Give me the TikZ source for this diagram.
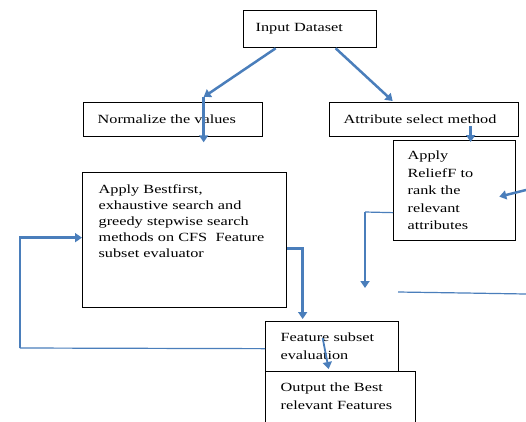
\documentclass[tikz,border=0pt]{standalone}
\usepackage{fontspec}
\setmainfont{Liberation Serif}[FakeStretch=1.3]
\usetikzlibrary{arrows.meta}
\definecolor{flowblue}{RGB}{74,126,187}
\tikzset{
  box/.style={draw, line width=1.3pt, fill=white, anchor=north west, inner xsep=14pt, inner ysep=0pt, align=left},
  flow/.style={draw=flowblue, line width=2.5pt, -{Triangle[width=9pt,length=7pt]}},
  thinflow/.style={draw=flowblue, line width=1.2pt},
}

\begin{document}
\begin{tikzpicture}[x=1pt, y=-1pt, font=\fontsize{12.5}{16}\selectfont]
            \useasboundingbox (0,0) rectangle (526,421);
            \clip (0,0) rectangle (526,421);
            \node[box, inner xsep=12pt, text width=109pt, minimum height=37pt] (input) at (243,10) {Input Dataset};
            \node[box, text width=151pt, minimum height=34pt] (normalize) at (83,102) {Normalize the values};
            \node[box, text width=161pt, minimum height=34pt] (attribute) at (329,102) {Attribute select method};
            \node[box, text width=94pt, minimum height=100pt, font=\fontsize{12.5}{17.5}\selectfont] (relieff) at (393,140) {Apply\\ReliefF to\\rank the\\relevant\\attributes};
            \node[box, inner xsep=16pt, text width=172pt, text height=21pt, text depth=114pt] (bestfirst) at (82,172) {Apply Bestfirst,\\exhaustive search and\\greedy stepwise search\\methods on CFS~ Feature\\subset evaluator};
            \node[box, inner xsep=15pt, text width=103pt, text height=20pt, text depth=34pt, font=\fontsize{12.5}{18}\selectfont] (feature) at (265,321) {Feature subset\\evaluation};
            \node[box, inner xsep=15pt, text width=120pt, text height=20pt, text depth=50pt, font=\fontsize{12.5}{18}\selectfont] (output) at (265,371) {Output the Best\\relevant Features};
            \coordinate (rightin) at (526,190);
            \coordinate (bend) at (365,212);
            \coordinate (drop) at (365,288);
            \coordinate (stub1) at (398,292);
            \coordinate (stub2) at (465,293);
            \coordinate (stub3) at (526,294);
            \coordinate (loop) at (20,348);
            % top of the flow
            \draw[flow] ([xshift=-34.5pt]input.south) to ([xshift=30.5pt,yshift=5pt]normalize.north);
            \draw[flow] ([xshift=30.5pt,yshift=5pt]normalize.north) to ([xshift=30.5pt,yshift=-5pt]normalize.south);
            \draw[flow] ([xshift=25.5pt]input.south) to ([xshift=-31.5pt,yshift=1pt]attribute.north);
            \draw[flow] ([xshift=46.5pt,yshift=11pt]attribute.south) to ([xshift=16pt,yshift=-2pt]relieff.north);
            \draw[flow] (rightin) to ([xshift=-17pt,yshift=-6pt]relieff.east);
            \draw[thinflow] ([yshift=-22pt]relieff.west) to (bend);
            \draw[flow] (bend) to (drop);
            \draw[thinflow] (stub1) -- (stub2) -- (stub3);
            % evaluation loop
            \draw[flow] ([yshift=-8.5pt]bestfirst.east) -| ([xshift=-29.5pt,yshift=2pt]feature.north);
            \draw[thinflow] (feature.west) to (loop);
            \draw[flow] (loop) |- ([yshift=2.5pt]bestfirst.west);
            \draw[flow, line width=1.8pt] ([xshift=-9.5pt,yshift=-17pt]feature.north) to ([xshift=-12pt,yshift=2pt]output.north);
\end{tikzpicture}
\end{document}
